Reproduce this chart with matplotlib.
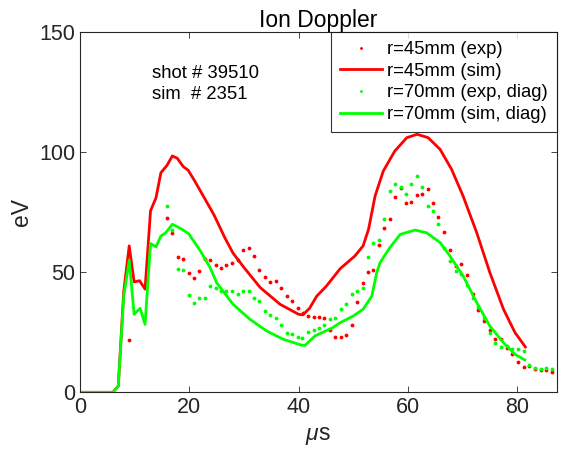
import matplotlib
matplotlib.use('Agg')
import matplotlib.pyplot as plt

plt.rcParams['font.family'] = ['Liberation Sans', 'DejaVu Sans']
plt.rcParams['mathtext.fontset'] = 'custom'
plt.rcParams['mathtext.it'] = 'Liberation Sans:italic'
plt.rcParams['mathtext.rm'] = 'Liberation Sans'

# r=45mm experiment
t_exp45 = [9.0, 15.9, 16.9, 17.9, 18.9, 19.9, 20.9, 21.8, 22.9, 23.8, 24.8, 25.8, 26.8, 27.8,
           28.9, 29.8, 30.9, 31.8, 32.8, 33.8, 34.8, 35.8, 36.8, 37.8, 38.8, 39.8, 40.8, 41.8,
           42.8, 43.7, 44.7, 45.7, 46.7, 47.7, 48.7, 49.7, 50.7, 51.7, 52.7, 53.7, 54.7, 55.7,
           56.7, 57.6, 58.7, 59.7, 60.6, 61.7, 62.6, 63.6, 64.6, 65.6, 66.7, 67.7, 68.8, 69.8,
           70.8, 71.9, 72.9, 73.9, 75.0, 76.0, 77.0, 78.1, 79.1, 80.1, 81.2, 82.2, 83.3, 84.3,
           85.3, 86.4]
v_exp45 = [21.8, 72.8, 66.4, 56.3, 55.4, 49.7, 47.5, 50.7, 55.7, 55.1, 53.1, 52.0, 53.1, 53.7,
           55.1, 59.4, 60.1, 56.8, 51.0, 48.0, 45.8, 46.2, 43.5, 40.1, 38.0, 35.1, 33.0, 31.9,
           31.4, 31.4, 31.0, 26.0, 23.1, 23.2, 23.8, 28.2, 37.8, 45.4, 50.3, 51.1, 61.5, 68.3,
           72.4, 81.5, 85.1, 78.9, 79.4, 82.3, 82.5, 84.7, 78.9, 73.0, 66.7, 59.4, 52.6, 53.6,
           49.0, 41.0, 34.2, 29.7, 26.0, 22.4, 22.1, 18.6, 16.0, 12.6, 10.4, 11.0, 9.9, 9.5,
           9.2, 8.6]

# r=45mm simulation
t_sim45 = [0, 6, 7, 8, 9, 9.9, 10.9, 11.9, 12.9, 13.9, 14.8, 15.9, 16.9, 17.8, 18.9, 19.8,
           21, 22, 23, 24.5, 26.5, 28, 30, 33, 36.6, 40, 40.8, 42, 43.3, 45.1, 47.6, 50.3,
           51.8, 52.8, 54, 55.5, 57.6, 59.8, 61.7, 63.7, 65.9, 68, 70.1, 72.6, 75, 77.5,
           79.6, 81.5]
v_sim45 = [0, 0, 2.6, 42, 61, 46, 46.5, 43, 75.6, 81, 91.5, 94.5, 98.5, 97.5, 94, 92.5,
           88, 84, 80, 74, 64.4, 58, 52, 43.6, 36.7, 32.5, 32.3, 35, 40, 44.3, 51.5, 56.8,
           61, 67.9, 81.8, 92.2, 100.5, 106.1, 107.5, 106.1, 101.2, 92.9, 81.8, 66.5, 49.9, 34.6,
           24.9, 18.9]

# r=70mm experiment (diag)
t_exp70 = [15.9, 16.9, 17.9, 18.9, 19.9, 20.9, 21.8, 22.9, 23.8, 24.8, 25.8, 26.8, 27.8,
           28.9, 29.8, 30.9, 31.8, 32.8, 33.8, 34.8, 35.8, 36.8, 37.8, 38.8, 39.8, 40.7, 41.8,
           42.8, 43.7, 44.7, 45.7, 46.7, 47.7, 48.7, 49.7, 50.7, 51.7, 52.7, 53.7, 54.7, 55.7,
           56.7, 57.6, 58.7, 59.7, 60.6, 61.7, 62.6, 63.6, 64.6, 65.6, 66.7, 67.7, 68.8, 69.8,
           70.8, 71.9, 72.9, 73.9, 75.0, 76.0, 77.0, 78.1, 79.1, 80.1, 81.2, 82.2, 83.3, 84.3,
           85.3, 86.4]
v_exp70 = [77.6, 67.6, 51.5, 51.0, 40.4, 37.1, 39.2, 39.2, 44.3, 43.6, 42.1, 42.4, 42.4,
           40.8, 42.1, 42.2, 39.4, 37.9, 34.0, 32.1, 30.8, 27.9, 24.9, 24.3, 22.9, 22.6, 25.1,
           25.8, 27.0, 28.2, 30.7, 31.1, 34.6, 36.6, 40.8, 42.2, 43.5, 56.4, 62.4, 63.3, 72.1,
           83.9, 86.7, 85.7, 82.8, 86.9, 90.1, 85.7, 77.8, 75.5, 70.2, 60.0, 54.7, 50.4, 49.2,
           44.9, 39.5, 35.5, 30.8, 24.8, 20.6, 18.8, 19.5, 18.2, 18.2, 17.2, 11.4, 10.3, 9.6,
           10.3, 9.6]

# r=70mm simulation (diag)
t_sim70 = [0, 6, 7, 8, 9, 9.9, 11, 11.9, 12.9, 13.9, 14.8, 15.7, 16.9, 17.8, 18.9, 19.9,
           22, 23.8, 25, 28, 31.1, 34.2, 37.2, 40.6, 41.2, 43, 46.3, 47.6, 50, 51.8, 53.4,
           54.3, 54.9, 56.7, 58.6, 61.3, 63.4, 65.9, 67.7, 70.1, 72.6, 75, 77.5, 79.6, 81.4]
v_sim70 = [0, 0, 2.6, 40, 55, 32.5, 35, 28.3, 62, 60.6, 65.1, 66.5, 70, 69, 67.6, 66,
           59, 52, 45.7, 36.7, 30.4, 25.5, 22.1, 19.6, 19.6, 23.5, 27, 29, 31.8, 34.6, 40.1,
           49.9, 54, 60.3, 65.8, 67.6, 66.5, 62.4, 56.8, 48.5, 37.4, 27.6, 20.7, 15.8, 13.5]

fig = plt.figure(figsize=(5.82, 4.58), dpi=100)
ax = fig.add_axes([0.1375, 0.1434, 0.8187, 0.7861])

ax.plot(t_exp45, v_exp45, '.', color='red', ms=3.5, label='r=45mm (exp)')
ax.plot(t_sim45, v_sim45, '-', color='red', lw=2, label='r=45mm (sim)')
ax.plot(t_exp70, v_exp70, '.', color='#00ff00', ms=3.5, label='r=70mm (exp, diag)')
ax.plot(t_sim70, v_sim70, '-', color='#00ff00', lw=2, label='r=70mm (sim, diag)')

ax.set_xlim(0, 87.2)
ax.set_ylim(0, 150)
ax.set_xticks([0, 20, 40, 60, 80])
ax.set_yticks([0, 50, 100, 150])
ax.tick_params(direction='in', top=True, right=True, labelsize=15.5, length=4, width=0.6,
               colors='#262626')
for s in ax.spines.values():
    s.set_linewidth(0.8)
    s.set_color('#262626')

ax.set_title('Ion Doppler', fontsize=16.5, pad=4)
ax.set_xlabel(r'$\mu$s', fontsize=16.5, color='#262626')
ax.set_ylabel('eV', fontsize=16.5, color='#262626')

ax.text(13.1, 128.5, 'shot # 39510\nsim  # 2351', fontsize=13.3, va='center', ha='left',
        linespacing=1.3)

leg = ax.legend(loc='upper right', fontsize=13.3, frameon=True, fancybox=False,
                borderaxespad=0, handlelength=2.3, handletextpad=0.25, labelspacing=0.25,
                borderpad=0.48, markerscale=0.6)
leg.get_frame().set_edgecolor('black')
leg.get_frame().set_linewidth(0.8)

fig.savefig('out.png', dpi=100)
